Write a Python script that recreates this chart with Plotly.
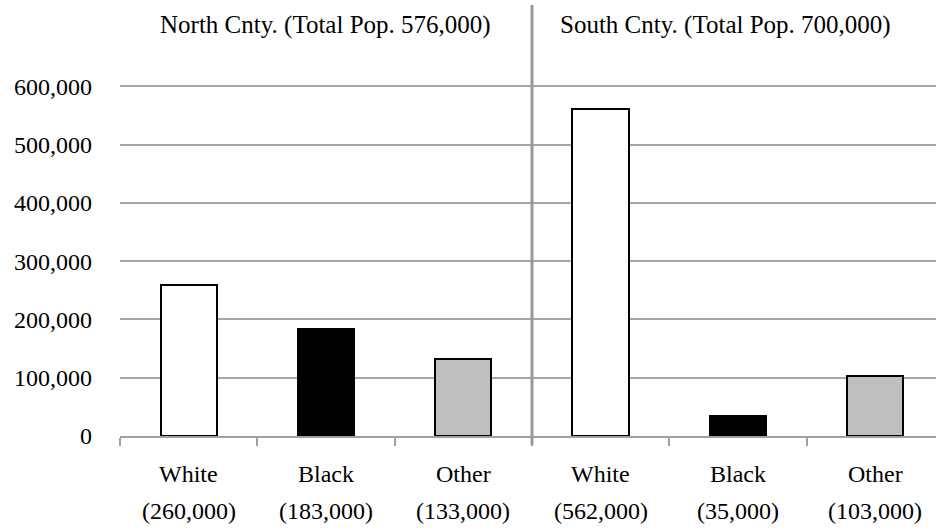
import plotly.graph_objects as go

groups = ["North Cnty. (Total Pop. 576,000)", "South Cnty. (Total Pop. 700,000)"]
categories = ["White", "Black", "Other", "White", "Black", "Other"]
values = [260000, 183000, 133000, 562000, 35000, 103000]
fills = ["#ffffff", "#000000", "#bfbfbf", "#ffffff", "#000000", "#bfbfbf"]
y_ticks = [0, 100000, 200000, 300000, 400000, 500000, 600000]

FONT = "Liberation Serif"
FS = 24
FS_TITLE = 25
xpos = list(range(len(categories)))

fig = go.Figure()
fig.add_trace(go.Bar(
    x=xpos, y=values, width=0.41,
    marker=dict(color=fills, line=dict(color="#000000", width=2)),
    showlegend=False, hoverinfo="skip",
))

annotations = []
for i, (c, v) in enumerate(zip(categories, values)):
    annotations.append(dict(x=i, y=-0.0892, xref="x", yref="paper", text=c,
                            showarrow=False, xanchor="center", yanchor="middle",
                            font=dict(family=FONT, size=FS, color="#000")))
    annotations.append(dict(x=i, y=-0.175, xref="x", yref="paper", text=f"({v:,})",
                            showarrow=False, xanchor="center", yanchor="middle",
                            font=dict(family=FONT, size=FS, color="#000")))
annotations.append(dict(x=1, y=0.953, xref="x", yref="paper", text=groups[0],
                        showarrow=False, xanchor="center", yanchor="middle",
                        font=dict(family=FONT, size=FS_TITLE, color="#000")))
annotations.append(dict(x=3.91, y=0.953, xref="x", yref="paper", text=groups[1],
                        showarrow=False, xanchor="center", yanchor="middle",
                        font=dict(family=FONT, size=FS_TITLE, color="#000")))

fig.update_layout(
    width=936, height=531,
    margin=dict(l=120, r=0, t=5, b=94.5),
    paper_bgcolor="#ffffff", plot_bgcolor="#ffffff",
    font=dict(family=FONT, size=FS, color="#000"),
    annotations=annotations,
    shapes=[dict(type="line", xref="x", yref="paper", x0=2.5, x1=2.5,
                 y0=-0.0197, y1=1, line=dict(color="#999999", width=3), layer="above")],
    bargap=0,
)
fig.update_xaxes(
    range=[-0.5, 5.442], tickmode="array",
    tickvals=[-0.5, 0.5, 1.5, 2.5, 3.5, 4.5, 5.5], ticktext=[""] * 7,
    ticks="outside", ticklen=8, tickwidth=2, tickcolor="#a0a0a0",
    showline=True, linecolor="#a0a0a0", linewidth=2,
    showgrid=False, zeroline=False, fixedrange=True,
)
fig.update_yaxes(
    range=[0, 739714], tickmode="array", tickvals=y_ticks,
    ticktext=[f"{v:,}" for v in y_ticks],
    showgrid=True, gridcolor="#a6a6a6", gridwidth=2,
    zeroline=False, showline=False, ticks="",
    ticklabelstandoff=27, fixedrange=True,
    tickfont=dict(family=FONT, size=FS, color="#000"),
)

fig.write_html("out.html")
